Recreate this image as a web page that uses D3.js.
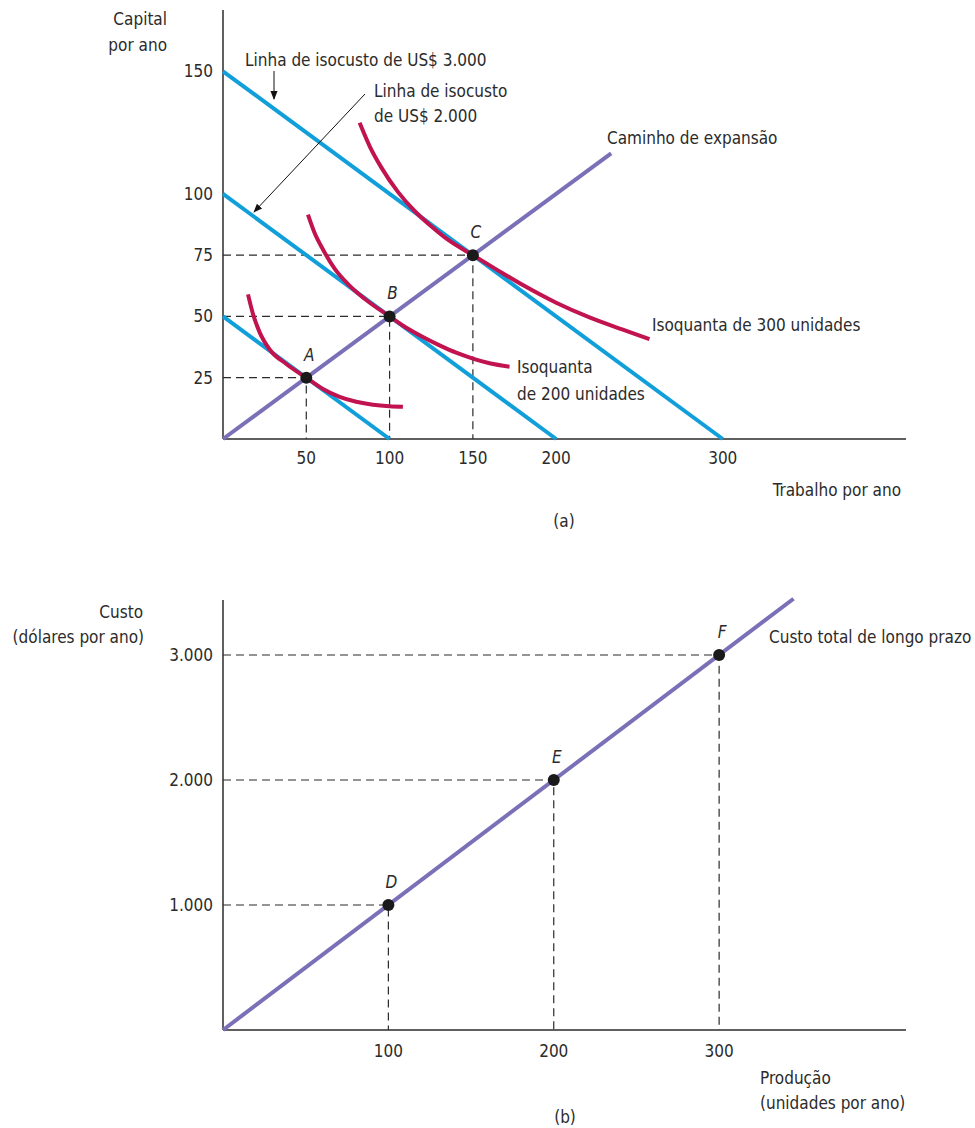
<!DOCTYPE html>
<html>
<head>
<meta charset="utf-8">
<script src="https://cdn.jsdelivr.net/npm/d3@7"></script>
<style>
  html, body { margin: 0; padding: 0; background: #fff; }
  svg { display: block; }
  text { font-family: "Liberation Sans Narrow", "DejaVu Sans Condensed", "Roboto", sans-serif; font-size: 17px; fill: #2b2b2b; }
  .it { font-style: italic; }
</style>
</head>
<body>
<script>
// ---------- DATA: panel (a) ----------
const isocostLevels = [
  { cost: 1000, k0: 50,  l0: 100 },
  { cost: 2000, k0: 100, l0: 200 },
  { cost: 3000, k0: 150, l0: 300 }
];
const expansionPath = [[0, 0], [233, 116.5]];
const isoquant100 = [[15, 59], [18, 51], [22, 43.5], [28, 36.5], [38, 30.6], [50, 25], [60, 20.4], [70, 17.2], [80, 15.2], [90, 14], [100, 13.4], [108, 13.2]];
const isoquant200 = [[51, 91.5], [55, 84], [60, 77.3], [67, 69.5], [75, 63.2], [85, 57.2], [100, 50], [110, 45.4], [120, 41.6], [130, 38.2], [140, 35.2], [150, 32.8], [160, 30.9], [172, 29.5]];
const isoquant300 = [[82, 129], [88, 119.5], [95, 110.8], [105, 100.8], [115, 93], [125, 86.8], [135, 81.3], [150, 75], [165, 68.8], [180, 62.8], [200, 55.6], [220, 49.6], [240, 44.6], [256, 40.7]];
const pointsA = [
  { name: "A", L: 50,  K: 25 },
  { name: "B", L: 100, K: 50 },
  { name: "C", L: 150, K: 75 }
];
const xTicksA = [50, 100, 150, 200, 300];
const yTicksA = [25, 50, 75, 100, 150];

// ---------- DATA: panel (b) ----------
const costCurve = [[0, 0], [345, 3450]];
const pointsB = [
  { name: "D", Q: 100, C: 1000 },
  { name: "E", Q: 200, C: 2000 },
  { name: "F", Q: 300, C: 3000 }
];
const xTicksB = [100, 200, 300];
const yTicksB = [1000, 2000, 3000];
const yTickLabelsB = ["1.000", "2.000", "3.000"];

// ---------- STYLE ----------
const BLUE = "#119fda", PURPLE = "#7a70b8", RED = "#c0134f", INK = "#2b2b2b";

const svg = d3.select("body").append("svg").attr("width", 975).attr("height", 1128);

svg.append("defs").append("marker")
  .attr("id", "arr").attr("viewBox", "0 0 10 10").attr("refX", 9).attr("refY", 5)
  .attr("markerWidth", 9).attr("markerHeight", 9).attr("orient", "auto-start-reverse")
  .attr("markerUnits", "userSpaceOnUse")
  .append("path").attr("d", "M0,1 L10,5 L0,9 Z").attr("fill", "#111");

// ================= PANEL (a) =================
const xa = d3.scaleLinear().domain([0, 410]).range([223, 906]);
const ya = d3.scaleLinear().domain([0, 175]).range([439, 10]);
const ga = svg.append("g");

ga.append("line").attr("x1", xa(0)).attr("x2", xa(0)).attr("y1", ya(0)).attr("y2", ya(175)).attr("stroke", INK).attr("stroke-width", 1.5);
ga.append("line").attr("x1", xa(0)).attr("x2", xa(410)).attr("y1", ya(0)).attr("y2", ya(0)).attr("stroke", INK).attr("stroke-width", 1.5);

ga.selectAll(".xt").data(xTicksA).join("text")
  .attr("x", d => xa(d)).attr("y", ya(0) + 25).attr("text-anchor", "middle").text(d => d);
ga.selectAll(".yt").data(yTicksA).join("text")
  .attr("x", xa(0) - 10).attr("y", d => ya(d) + 6).attr("text-anchor", "end").text(d => d);

pointsA.forEach(p => {
  ga.append("path").attr("d", `M${xa(0)},${ya(p.K)}H${xa(p.L)}V${ya(0)}`)
    .attr("fill", "none").attr("stroke", INK).attr("stroke-width", 1.2).attr("stroke-dasharray", "8,5");
});

ga.selectAll(".iso").data(isocostLevels).join("line")
  .attr("x1", xa(0)).attr("y1", d => ya(d.k0)).attr("x2", d => xa(d.l0)).attr("y2", ya(0))
  .attr("stroke", BLUE).attr("stroke-width", 4);

const lineA = d3.line().x(d => xa(d[0])).y(d => ya(d[1]));
ga.append("path").attr("d", lineA(expansionPath)).attr("stroke", PURPLE).attr("stroke-width", 4).attr("fill", "none");

const curveA = d3.line().x(d => xa(d[0])).y(d => ya(d[1])).curve(d3.curveMonotoneX);
[isoquant100, isoquant200, isoquant300].forEach(q => {
  ga.append("path").attr("d", curveA(q)).attr("stroke", RED).attr("stroke-width", 4).attr("fill", "none");
});

ga.selectAll(".pa").data(pointsA).join("circle")
  .attr("cx", d => xa(d.L)).attr("cy", d => ya(d.K)).attr("r", 6).attr("fill", "#1a1a1a");
ga.selectAll(".pal").data(pointsA).join("text").attr("class", "it")
  .attr("x", d => xa(d.L) + 3).attr("y", d => ya(d.K) - 17).attr("text-anchor", "middle").text(d => d.name);

ga.append("text").attr("x", 167).attr("y", 25).attr("text-anchor", "end").text("Capital");
ga.append("text").attr("x", 167).attr("y", 51).attr("text-anchor", "end").text("por ano");
ga.append("text").attr("x", 901).attr("y", 496).attr("text-anchor", "end").text("Trabalho por ano");
ga.append("text").attr("x", 564).attr("y", 527).attr("text-anchor", "middle").text("(a)");

ga.append("text").attr("x", 245).attr("y", 66).text("Linha de isocusto de US$ 3.000");
ga.append("line").attr("x1", 274).attr("y1", 71).attr("x2", 274).attr("y2", 99)
  .attr("stroke", "#111").attr("stroke-width", 1).attr("marker-end", "url(#arr)");
ga.append("text").attr("x", 374).attr("y", 97).text("Linha de isocusto");
ga.append("text").attr("x", 374).attr("y", 122).text("de US$ 2.000");
ga.append("line").attr("x1", 365).attr("y1", 94).attr("x2", 254).attr("y2", 212)
  .attr("stroke", "#111").attr("stroke-width", 1).attr("marker-end", "url(#arr)");
ga.append("text").attr("x", 607).attr("y", 144).text("Caminho de expansão");
ga.append("text").attr("x", 652).attr("y", 331).text("Isoquanta de 300 unidades");
ga.append("text").attr("x", 517).attr("y", 373).text("Isoquanta");
ga.append("text").attr("x", 517).attr("y", 400).text("de 200 unidades");

// ================= PANEL (b) =================
const xb = d3.scaleLinear().domain([0, 413]).range([223, 906]);
const yb = d3.scaleLinear().domain([0, 3440]).range([1030, 600]);
const gb = svg.append("g");

gb.append("line").attr("x1", xb(0)).attr("x2", xb(0)).attr("y1", yb(0)).attr("y2", yb(3440)).attr("stroke", INK).attr("stroke-width", 1.5);
gb.append("line").attr("x1", xb(0)).attr("x2", xb(413)).attr("y1", yb(0)).attr("y2", yb(0)).attr("stroke", INK).attr("stroke-width", 1.5);

gb.selectAll(".xt").data(xTicksB).join("text")
  .attr("x", d => xb(d)).attr("y", yb(0) + 27).attr("text-anchor", "middle").text(d => d);
gb.selectAll(".yt").data(yTicksB).join("text")
  .attr("x", xb(0) - 10).attr("y", d => yb(d) + 6).attr("text-anchor", "end").text((d, i) => yTickLabelsB[i]);

pointsB.forEach(p => {
  gb.append("path").attr("d", `M${xb(0)},${yb(p.C)}H${xb(p.Q)}V${yb(0)}`)
    .attr("fill", "none").attr("stroke", INK).attr("stroke-width", 1.2).attr("stroke-dasharray", "8,5");
});

const lineB = d3.line().x(d => xb(d[0])).y(d => yb(d[1]));
gb.append("path").attr("d", lineB(costCurve)).attr("stroke", PURPLE).attr("stroke-width", 4).attr("fill", "none");

gb.selectAll(".pb").data(pointsB).join("circle")
  .attr("cx", d => xb(d.Q)).attr("cy", d => yb(d.C)).attr("r", 6).attr("fill", "#1a1a1a");
gb.selectAll(".pbl").data(pointsB).join("text").attr("class", "it")
  .attr("x", d => xb(d.Q) + 3).attr("y", d => yb(d.C) - 17).attr("text-anchor", "middle").text(d => d.name);

gb.append("text").attr("x", 143).attr("y", 618).attr("text-anchor", "end").text("Custo");
gb.append("text").attr("x", 144).attr("y", 643).attr("text-anchor", "end").text("(dólares por ano)");
gb.append("text").attr("x", 769).attr("y", 643).text("Custo total de longo prazo");
gb.append("text").attr("x", 760).attr("y", 1084).text("Produção");
gb.append("text").attr("x", 760).attr("y", 1109).text("(unidades por ano)");
gb.append("text").attr("x", 565).attr("y", 1123).attr("text-anchor", "middle").text("(b)");
</script>
</body>
</html>
